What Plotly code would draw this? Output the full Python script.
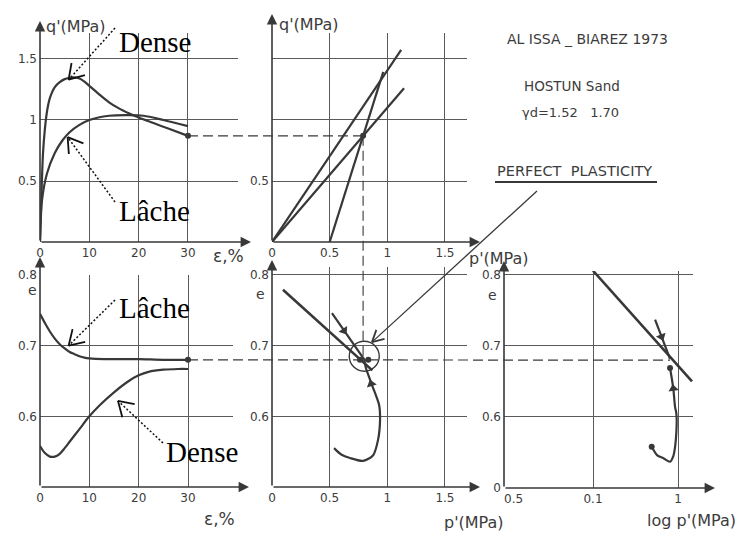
import math
import plotly.graph_objects as go

W, H = 747, 533

# ---------------- data ----------------
# q'-eps (top left)
eps_q_dense = [0, 0.3, 0.6, 1, 1.5, 2, 3, 4, 5, 6, 7, 8, 9, 10, 12, 14, 16, 18, 20, 23, 26, 30]
q_dense = [0, 0.4, 0.72, 0.93, 1.09, 1.18, 1.27, 1.31, 1.335, 1.345, 1.35, 1.34, 1.315, 1.28,
           1.21, 1.145, 1.095, 1.055, 1.02, 0.975, 0.93, 0.87]
eps_q_loose = [0, 0.4, 1.4, 3, 4.5, 6, 8, 10, 14, 18, 21, 25, 30]
q_loose = [0, 0.34, 0.56, 0.73, 0.83, 0.9, 0.96, 1.0, 1.035, 1.04, 1.035, 1.0, 0.95]

# q'-p' (top middle)
p_peak_line = [0, 1.12]
q_peak_line = [0, 1.575]
p_cs_line = [0, 1.145]
q_cs_line = [0, 1.26]
p_stress_path = [0.5, 0.965]
q_stress_path = [0, 1.395]

# e-eps (bottom left)
eps_e_loose = [0, 1, 2, 3, 4, 5, 6, 7, 8, 9, 10, 13, 16, 20, 25, 30]
e_loose = [0.745, 0.732, 0.72, 0.71, 0.702, 0.696, 0.691, 0.688, 0.685, 0.683, 0.682,
           0.681, 0.681, 0.681, 0.68, 0.68]
eps_e_dense = [0, 1, 2, 3, 4, 5, 6, 8, 10, 12, 15, 18, 20, 22, 25, 28, 30]
e_dense = [0.558, 0.548, 0.543, 0.543, 0.547, 0.555, 0.564, 0.582, 0.6, 0.615, 0.634,
           0.65, 0.658, 0.663, 0.666, 0.667, 0.667]

# e-p' (bottom middle)
p_csl_lin = [0.095, 0.87]
e_csl_lin = [0.779, 0.665]
p_loose_lin = [0.52, 0.81]
e_loose_lin = [0.746, 0.678]
p_dense_lin = [0.538, 0.6, 0.676, 0.79, 0.877, 0.92, 0.937, 0.93, 0.905, 0.877, 0.85, 0.815, 0.8]
e_dense_lin = [0.555, 0.546, 0.541, 0.537, 0.545, 0.567, 0.595, 0.615, 0.628, 0.64, 0.652, 0.668, 0.68]
p_dots_lin = [0.763, 0.835]
e_dots_lin = [0.68, 0.68]

# e-log p' (bottom right)
p_csl_log = [0.1, 1.46]
e_csl_log = [0.806, 0.65]
p_loose_log = [0.537, 0.805]
e_loose_log = [0.737, 0.682]
p_dense_log = [0.49, 0.57, 0.673, 0.805, 0.88, 0.923, 0.955, 0.964, 0.95, 0.923, 0.88, 0.84, 0.805]
e_dense_log = [0.558, 0.546, 0.542, 0.537, 0.545, 0.558, 0.578, 0.596, 0.607, 0.614, 0.64, 0.656, 0.669]

# critical state
eps_end = 30
q_crit = 0.87
p_crit = 0.79
e_crit = 0.68

# tick values / labels
eps_ticks = [0, 10, 20, 30]
q_ticks = [0.5, 1, 1.5]
q_ticks_text_left = ["0.5", "1", "1.5"]
q_ticks_text_mid = ["0.5", "", ""]
p_ticks = [0, 0.5, 1, 1.5]
p_ticks_text = ["0", "0.5", "1", "1.5"]
e_ticks = [0.6, 0.7, 0.8]
e_ticks_log = [0.5, 0.6, 0.7, 0.8]
e_ticks_log_text = ["0", "0.6", "0.7", "0.8"]
logp_ticks = [0.1, 1]
logp_ticks_text = ["0.1", "1"]
logp_origin_text = "0.5"

# ---------------- layout geometry (pixels) ----------------
PANELS = {
    1: dict(box=(40, 238, 242, 33), xr=(0, 40.14), yr=(0, 1.713), log=False),
    2: dict(box=(272, 467, 242, 33), xr=(0, 1.691), yr=(0, 1.713), log=False),
    3: dict(box=(40, 233, 487, 275), xr=(0, 39.12), yr=(0.5, 0.8), log=False),
    4: dict(box=(272, 467, 487, 267), xr=(0, 1.691), yr=(0.5, 0.8113), log=False),
    5: dict(box=(504, 693, 488, 271), xr=(-2.047, 0.176), yr=(0.5, 0.8056), log=True),
}

INK = "#383838"
GRID = "#5a5a5a"
TXT = "#3c3c3c"
SANS = "DejaVu Sans"


def to_px(k, x, y):
    P = PANELS[k]
    x0, x1, yb, yt = P["box"]
    xv = math.log10(x) if P["log"] else x
    X = x0 + (xv - P["xr"][0]) / (P["xr"][1] - P["xr"][0]) * (x1 - x0)
    Y = yb - (y - P["yr"][0]) / (P["yr"][1] - P["yr"][0]) * (yb - yt)
    return X, Y


def fx(X):
    return X / W


def fy(Y):
    return 1 - Y / H


def ax_names(k):
    return ("x" if k == 1 else f"x{k}"), ("y" if k == 1 else f"y{k}")


fig = go.Figure()


def curve(k, xs, ys, width=2.2, spline=True):
    xa, ya = ax_names(k)
    fig.add_trace(go.Scatter(
        x=xs, y=ys, xaxis=xa, yaxis=ya, mode="lines",
        line=dict(color=INK, width=width, shape="spline" if spline else "linear", smoothing=0.8),
        hoverinfo="skip", showlegend=False))


def dots(k, xs, ys, size=6):
    xa, ya = ax_names(k)
    fig.add_trace(go.Scatter(
        x=xs, y=ys, xaxis=xa, yaxis=ya, mode="markers",
        marker=dict(color=INK, size=size), hoverinfo="skip", showlegend=False))


def dir_marker(k, x, y, angle):
    xa, ya = ax_names(k)
    fig.add_trace(go.Scatter(
        x=[x], y=[y], xaxis=xa, yaxis=ya, mode="markers",
        marker=dict(color=INK, size=9, symbol="triangle-up", angle=angle),
        hoverinfo="skip", showlegend=False))


# top left
curve(1, eps_q_dense, q_dense)
curve(1, eps_q_loose, q_loose)
dots(1, [eps_end], [q_crit])
# top middle
curve(2, p_peak_line, q_peak_line, spline=False)
curve(2, p_cs_line, q_cs_line, spline=False)
curve(2, p_stress_path, q_stress_path, spline=False)
dots(2, [p_crit], [q_crit])
# bottom left
curve(3, eps_e_loose, e_loose)
curve(3, eps_e_dense, e_dense)
dots(3, [eps_end], [e_crit])
# bottom middle
curve(4, p_csl_lin, e_csl_lin, width=2.6, spline=False)
curve(4, p_loose_lin, e_loose_lin, spline=False)
curve(4, p_dense_lin, e_dense_lin)
dots(4, p_dots_lin, e_dots_lin)
dir_marker(4, 0.625, 0.721, 146)
dir_marker(4, 0.86, 0.646, -17)
# bottom right
curve(5, p_csl_log, e_csl_log, width=2.6, spline=False)
curve(5, p_loose_log, e_loose_log, spline=False)
curve(5, p_dense_log, e_dense_log)
dots(5, [p_dense_log[0], p_dense_log[-1]], [e_dense_log[0], e_dense_log[-1]])
dir_marker(5, 0.64, 0.713, 158)
dir_marker(5, 0.88, 0.64, -8)

# ---------------- axes ----------------
axis_common = dict(showgrid=True, gridcolor=GRID, gridwidth=1.1, zeroline=False, showline=False,
                   ticks="", tickfont=dict(family=SANS, size=12, color=TXT), fixedrange=True,
                   ticklabelstandoff=2)
layout_axes = {}
xticks = {1: (eps_ticks, [str(v) for v in eps_ticks]), 2: (p_ticks, p_ticks_text),
          3: (eps_ticks, [str(v) for v in eps_ticks]), 4: (p_ticks, p_ticks_text),
          5: (logp_ticks, logp_ticks_text)}
yticks = {1: (q_ticks, q_ticks_text_left), 2: (q_ticks, q_ticks_text_mid),
          3: (e_ticks, ["0.6", "0.7", "0.8"]), 4: (e_ticks, ["0.6", "0.7", "0.8"]),
          5: (e_ticks_log, e_ticks_log_text)}
for k, P in PANELS.items():
    x0, x1, yb, yt = P["box"]
    xa, ya = ax_names(k)
    xkey = "xaxis" if k == 1 else f"xaxis{k}"
    ykey = "yaxis" if k == 1 else f"yaxis{k}"
    layout_axes[xkey] = dict(axis_common, domain=[fx(x0), fx(x1)], range=list(P["xr"]),
                             type="log" if P["log"] else "linear", anchor=ya,
                             tickvals=xticks[k][0], ticktext=xticks[k][1])
    layout_axes[ykey] = dict(axis_common, domain=[fy(yb), fy(yt)], range=list(P["yr"]),
                             anchor=xa, tickvals=yticks[k][0], ticktext=yticks[k][1])

annotations = []
shapes = []


def arrow_ann(tip, tail, width=1.6):
    annotations.append(dict(
        x=fx(tip[0]), y=fy(tip[1]), xref="paper", yref="paper", text="",
        showarrow=True, arrowhead=2, arrowsize=1.3, arrowwidth=width, arrowcolor=INK,
        ax=tail[0] - tip[0], ay=tail[1] - tip[1]))


# axis lines with arrows (tip, origin)
axis_tips = {1: ((40, 21), (251, 242)), 2: ((272, 14), (480, 242)),
             3: ((40, 257), (249, 487)), 4: ((272, 260), (480, 487)),
             5: ((504, 261), (715, 488))}
for k, (ytip, xtip) in axis_tips.items():
    x0, x1, yb, yt = PANELS[k]["box"]
    arrow_ann(ytip, (x0, yb))
    arrow_ann(xtip, (x0, yb))


def seg(a, b, width=1.3, dash=None, color=INK):
    line = dict(color=color, width=width)
    if dash:
        line["dash"] = dash
    shapes.append(dict(type="line", xref="paper", yref="paper",
                       x0=fx(a[0]), y0=fy(a[1]), x1=fx(b[0]), y1=fy(b[1]), line=line))


def v_arrow(tail, tip, dash="2px,2px", arm=17, half=32, width=1.5, color="#111"):
    seg(tail, tip, width=width, dash=dash, color=color)
    dx, dy = tail[0] - tip[0], tail[1] - tip[1]
    L = math.hypot(dx, dy)
    ux, uy = dx / L, dy / L
    for s in (1, -1):
        a = math.radians(half * s)
        rx = ux * math.cos(a) - uy * math.sin(a)
        ry = ux * math.sin(a) + uy * math.cos(a)
        seg(tip, (tip[0] + arm * rx, tip[1] + arm * ry), width=1.8, color=color)


# dashed connectors at the critical state
seg(to_px(1, eps_end, q_crit), to_px(2, p_crit, q_crit), width=1.2, dash="10px,5px")
seg(to_px(2, p_crit, q_crit), to_px(4, p_crit, e_crit), width=1.1, dash="10px,5px")
seg(to_px(3, eps_end, e_crit), to_px(5, p_dense_log[-1], e_crit), width=1.2, dash="10px,5px")

# circle around the critical state in the e-p' plane
cx, cy = to_px(4, 0.8, 0.685)
r = 15
shapes.append(dict(type="circle", xref="paper", yref="paper", x0=fx(cx - r), x1=fx(cx + r),
                   y0=fy(cy + r), y1=fy(cy - r), line=dict(color=INK, width=1.4)))

# PERFECT PLASTICITY pointer
v_arrow((537, 191), to_px(4, 0.867, 0.705), dash=None, arm=13, half=28, width=1.3, color=INK)
seg((495, 182), (657, 182), width=2, color=INK)

# Dense / Lache pointers
v_arrow((115, 28), to_px(1, 5.8, 1.33))
v_arrow((115, 202), to_px(1, 5.6, 0.86))
v_arrow((115, 300), to_px(3, 5.8, 0.7))
v_arrow((163, 443), to_px(3, 15.8, 0.622))


def text(s, X, Y, size=12, family=SANS, color=TXT, xanchor="left"):
    annotations.append(dict(text=s, x=fx(X), y=fy(Y), xref="paper", yref="paper",
                            showarrow=False, xanchor=xanchor, yanchor="middle",
                            font=dict(family=family, size=size, color=color)))


SERIF = "Liberation Serif"
text("Dense", 117, 42, size=29, family=SERIF, color="#000")
text("Lâche", 117, 211, size=29, family=SERIF, color="#000")
text("Lâche", 117, 308, size=29, family=SERIF, color="#000")
text("Dense", 164, 452, size=29, family=SERIF, color="#000")

text(logp_origin_text, 513, 499, size=12, xanchor="center")
text("q'(MPa)", 44, 26, size=16)
text("q'(MPa)", 277, 24, size=16)
text("ε,%", 211, 256, size=17)
text("ε,%", 202, 519, size=17)
text("p'(MPa)", 467, 258, size=16)
text("p'(MPa)", 442, 522, size=16)
text("log p'(MPa)", 645, 520, size=16)
text("e", 32, 290, size=14, xanchor="center")
text("e", 260, 294, size=14, xanchor="center")
text("e", 492, 295, size=14, xanchor="center")

text("AL ISSA _ BIAREZ 1973", 505, 39, size=14)
text("HOSTUN Sand", 522, 86, size=13.5)
text("γd=1.52   1.70", 520, 113, size=13)
text("PERFECT  PLASTICITY", 495, 171, size=14.5)

fig.update_layout(
    width=W, height=H, autosize=False,
    margin=dict(l=0, r=0, t=0, b=0, autoexpand=False),
    paper_bgcolor="white", plot_bgcolor="white",
    showlegend=False, annotations=annotations, shapes=shapes,
    **layout_axes)

fig.write_html("out.html", config={"displayModeBar": False},
               post_script="document.body.style.margin='0';document.body.style.padding='0';")
